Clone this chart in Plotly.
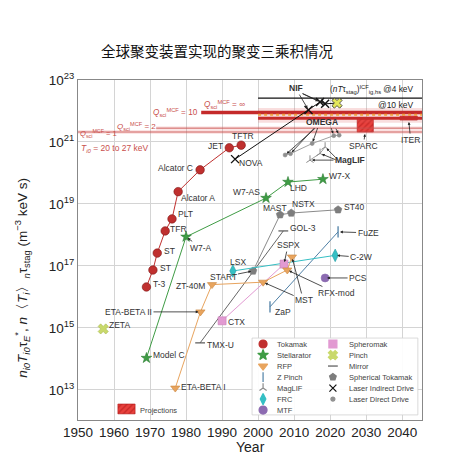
"""
Fusion triple product achieved by fusion devices, by year.
"""

import numpy as np
import plotly.graph_objects as go

FONT = "Liberation Sans, Arial, sans-serif"

# ---- device records: year, triple product (m^-3 keV s) ----
tokamak_names = ["T-3", "ST", "ST", "TFR", "PLT", "Alcator A", "Alcator C", "JET", "TFTR"]
tokamak_year = [1969.0, 1970.8, 1972.0, 1974.2, 1976.1, 1977.8, 1983.9, 1992.0, 1995.3]
tokamak_val = [2.1e16, 7.4e16, 2.6e17, 1.35e18, 3.3e18, 2.5e19, 1.26e20, 6.5e20, 7.9e20]

stell_names = ["Model C", "W7-A", "W7-AS", "LHD", "W7-X"]
stell_year = [1969.0, 1980.0, 2002.2, 2008.3, 2018.0]
stell_val = [1.07e14, 8.7e17, 1.55e19, 5.1e19, 6.3e19]

rfp_names = ["ETA-BETA I", "ETA-BETA II", "ZT-40M", "MST", "RFX-mod", "MST"]
rfp_year = [1977.0, 1984.0, 1987.2, 2001.4, 2008.1, 2009.4]
rfp_val = [1.15e13, 3.3e15, 2.5e16, 3.0e16, 7.4e16, 1.95e17]

sph_tok_names = ["START", "MAST", "NSTX", "ST40"]
sph_tok_year = [1998.6, 2006.1, 2009.2, 2022.2]
sph_tok_val = [6.9e16, 4.5e18, 5.1e18, 6.5e18]

mirror_names = ["TMX-U", "GOL-3"]
mirror_year = [1983.9, 2007.0]
mirror_val = [3.3e14, 1.35e18]

zpinch_names = ["ZaP", "FuZE"]
zpinch_year = [2003.3, 2022.2]
zpinch_val = [4.8e15, 1.26e18]

frc_names = ["LSX", "C-2W"]
frc_year = [1993.0, 2021.4]
frc_val = [6.9e16, 2.2e17]

spheromak_names = ["CTX", "SSPX"]
spheromak_year = [1990.0, 2007.2]
spheromak_val = [1.7e15, 1.15e17]

mtf_names = ["PCS"]
mtf_year = [2018.6]
mtf_val = [4.1e16]

pinch_names = ["ZETA"]
pinch_year = [1957.0]
pinch_val = [9.3e14]

lid_names = ["NOVA", "NIF", "NIF", "NIF", "NIF"]
lid_year = [1993.6, 2014.0, 2017.2, 2018.6, 2021.9]
lid_val = [2.8e20, 1.07e22, 1.95e22, 1.7e22, 1.8e22]

omega_year = [2007.5, 2009.0, 2015.0, 2021.0, 2022.5]
omega_val = [3.8e20, 4.2e20, 8.9e20, 1.6e21, 1.66e21]

maglif_year = [2014.4, 2017.2, 2018.6]
maglif_val = [2.6e20, 4.3e20, 6.9e20]

# projections (SPARC, ITER): year span and triple-product span
proj_names = ["SPARC", "ITER"]
proj_year_lo = [2027.5, 2039.4]
proj_year_hi = [2032.0, 2044.2]
proj_val_lo = [2.1e21, 5.1e21]
proj_val_hi = [5.9e21, 6.9e21]

# reference levels: start year and value
q1_start, q1_val = 1950.0, 2.1e21
q2_start, q2_val = 1971.7, 2.8e21
q10_start, q10_val = 1984.2, 9.0e21
qinf_start, qinf_val = 2000.0, 5.8e21
band_lo, band_hi = 4.2e21, 1.25e22
icf4_start, icf4_val = 2000.0, 2.6e22
icf10_start, icf10_val = 2000.0, 7.6e21

X_MIN, X_MAX = 1950, 2045.5

TOK = "#c0302f"
STE = "#3f9c45"
RFP = "#e8a45e"
ZPI = "#4f80a6"
MAG = "#8a8a8a"
FRC = "#35bfc4"
MTF = "#8c6bb1"
SPH = "#e29ad2"
PIN = "#c9d96b"
MIR = "#555555"
STK = "#7d7d7d"
LID = "#111111"
LDD = "#8f8f8f"
QRED = "#c94f4c"


def lg(v):
    return float(np.log10(v))


fig = go.Figure()

# reference bands / lines
fig.add_trace(go.Scatter(x=[icf4_start, X_MAX], y=[band_lo, band_lo], mode="lines",
                         line=dict(width=0), hoverinfo="skip", showlegend=False))
fig.add_trace(go.Scatter(x=[icf4_start, X_MAX], y=[band_hi, band_hi], mode="lines",
                         line=dict(width=0), fill="tonexty",
                         fillcolor="rgba(225,90,90,0.2)", hoverinfo="skip",
                         showlegend=False))
for start, val in [(q1_start, q1_val), (q2_start, q2_val)]:
    fig.add_trace(go.Scatter(x=[start, X_MAX], y=[val, val], mode="lines",
                             line=dict(color="rgba(225,90,90,0.15)", width=4),
                             hoverinfo="skip", showlegend=False))
    fig.add_trace(go.Scatter(x=[start, X_MAX], y=[val, val], mode="lines",
                             line=dict(color=QRED, width=0.9),
                             hoverinfo="skip", showlegend=False))
fig.add_trace(go.Scatter(x=[q10_start, X_MAX], y=[q10_val, q10_val], mode="lines",
                         line=dict(color="#c42a2a", width=3.5),
                         hoverinfo="skip", showlegend=False))
fig.add_trace(go.Scatter(x=[qinf_start, X_MAX], y=[qinf_val, qinf_val], mode="lines",
                         line=dict(color="#c42a2a", width=3),
                         hoverinfo="skip", showlegend=False))
fig.add_trace(go.Scatter(x=[icf10_start, X_MAX], y=[icf10_val, icf10_val], mode="lines",
                         line=dict(color="#f0a040", width=2, dash="dot"),
                         hoverinfo="skip", showlegend=False))
fig.add_trace(go.Scatter(x=[icf4_start, X_MAX], y=[icf4_val, icf4_val], mode="lines",
                         line=dict(color="#111111", width=1.3),
                         hoverinfo="skip", showlegend=False))

# projections
fig.add_trace(go.Bar(
    x=[(a + b) / 2 for a, b in zip(proj_year_lo, proj_year_hi)],
    width=[b - a for a, b in zip(proj_year_lo, proj_year_hi)],
    base=proj_val_lo,
    y=[h - l for l, h in zip(proj_val_lo, proj_val_hi)],
    marker=dict(color="#e8403c", line=dict(color="#b01818", width=0.6),
                pattern=dict(shape="/", fgcolor="#a81414", size=4, solidity=0.35)),
    hoverinfo="skip", showlegend=False))


def series(x, y, color, symbol, size=8, lw=1.0, edge=None, mlw=0.6, lcolor=None):
    fig.add_trace(go.Scatter(
        x=x, y=y, mode="lines+markers",
        line=dict(color=lcolor or color, width=lw),
        marker=dict(symbol=symbol, size=size, color=color,
                    line=dict(color=edge or color, width=mlw)),
        hoverinfo="skip", showlegend=False))


series(omega_year, omega_val, LDD, "circle", size=4, lcolor="#a0a0a0")
series(maglif_year, maglif_val, MAG, "y-up", size=6, mlw=1, lcolor="#a0a0a0")
series(mirror_year, mirror_val, MIR, "line-ew", size=7, mlw=1.2, lcolor="#666666")
series(sph_tok_year, sph_tok_val, STK, "pentagon", size=8, lcolor="#8a8a8a")
series(zpinch_year, zpinch_val, ZPI, "line-ns", size=8, mlw=1.3)
series(frc_year, frc_val, FRC, "diamond-tall", size=9, edge="#2a9ea3")
series(spheromak_year, spheromak_val, SPH, "square", size=8, edge="#c77fb8")
series(mtf_year, mtf_val, MTF, "circle", size=8)
series(pinch_year, pinch_val, PIN, "x", size=9, edge="#a8b850")
series(rfp_year, rfp_val, RFP, "triangle-down", size=8, edge="#c98640")
series(stell_year, stell_val, STE, "star", size=8, edge="#2f7f35")
series(tokamak_year, tokamak_val, TOK, "circle", size=8.5, edge="#7d1515")
series(lid_year, lid_val, LID, "x-thin", size=8, mlw=1.4)
# highlighted NIF shot
fig.add_trace(go.Scatter(x=lid_year[-1:], y=lid_val[-1:], mode="markers",
                         marker=dict(symbol="x", size=9, color="#e4e85a",
                                     line=dict(color="#333333", width=0.8)),
                         hoverinfo="skip", showlegend=False))

# ---- legend (drawn on a hidden overlay axis in plot fractions) ----
legend_items = [
    ("Tokamak", "circle", TOK, 8), ("Stellarator", "star", STE, 8),
    ("RFP", "triangle-down", RFP, 8), ("Z Pinch", "line-ns", ZPI, 7),
    ("MagLIF", "y-up", MAG, 6), ("FRC", "diamond-tall", FRC, 8),
    ("MTF", "circle", MTF, 8),
    ("Spheromak", "square", SPH, 8), ("Pinch", "x", PIN, 8),
    ("Mirror", "line-ew", MIR, 7), ("Spherical Tokamak", "pentagon", STK, 7),
    ("Laser Indirect Drive", "x-thin", LID, 7), ("Laser Direct Drive", "circle", LDD, 4),
]
box_x0, box_x1, box_y0, box_y1 = 0.506, 0.988, 0.015, 0.241
row_top, row_step = 0.2235, 0.0324
col_marker = [0.538, 0.741]
col_text = [0.574, 0.783]

fig.add_trace(go.Scatter(
    x=[box_x0, box_x1, box_x1, box_x0, box_x0], y=[box_y0, box_y0, box_y1, box_y1, box_y0],
    mode="lines", fill="toself", fillcolor="rgba(255,255,255,0.92)",
    line=dict(color="#d0d0d0", width=0.8), xaxis="x2", yaxis="y2",
    hoverinfo="skip", showlegend=False))

annotations = []
for i, (name, sym, col, sz) in enumerate(legend_items):
    c, r = divmod(i, 7)
    ypos = row_top - r * row_step
    fig.add_trace(go.Scatter(
        x=[col_marker[c]], y=[ypos], mode="markers", xaxis="x2", yaxis="y2",
        marker=dict(symbol=sym, size=sz, color=col, line=dict(color=col, width=1.2)),
        hoverinfo="skip", showlegend=False))
    annotations.append(dict(x=col_text[c], y=ypos, xref="x2", yref="y2", text=name,
                            showarrow=False, xanchor="left", yanchor="middle",
                            font=dict(size=7.5, color="#444444", family=FONT)))

# projections key
fig.add_trace(go.Bar(x=[0.141], width=[0.05], base=[0.018], y=[0.029],
                     xaxis="x2", yaxis="y2",
                     marker=dict(color="#e8403c", line=dict(color="#b01818", width=0.6),
                                 pattern=dict(shape="/", fgcolor="#a81414", size=4,
                                              solidity=0.35)),
                     hoverinfo="skip", showlegend=False))
annotations.append(dict(x=0.175, y=0.028, xref="x2", yref="y2", text="Projections",
                        showarrow=False, xanchor="left", yanchor="middle",
                        font=dict(size=7.5, color="#444444", family=FONT)))


def label(x, v, text, dx=0, dy=0, anchor="left", size=8.5, color="#333333", bold=False):
    if bold:
        text = "<b>" + text + "</b>"
    annotations.append(dict(x=x, y=lg(v), xref="x", yref="y", text=text,
                            showarrow=False, xanchor=anchor, yanchor="middle",
                            xshift=dx, yshift=-dy,
                            font=dict(size=size, color=color, family=FONT)))


def arrow(x, v, ax, ay, text="", bold=False):
    if bold and text:
        text = "<b>" + text + "</b>"
    annotations.append(dict(x=x, y=lg(v), xref="x", yref="y", text=text,
                            showarrow=True, ax=ax, ay=ay, arrowhead=2, arrowsize=0.7,
                            arrowwidth=0.8, arrowcolor="#222222", standoff=2,
                            font=dict(size=8.5, color="#333333", family=FONT)))


# tokamak labels
tok_off = [(5, -3, "left"), (5, -2, "left"), (5, -2, "left"), (3, -2, "left"),
           (4, -5, "left"), (1, 6, "left"), (-5, -2, "right"), (-4, -2, "right"),
           (2, -9, "center")]
for n, x, v, (dx, dy, a) in zip(tokamak_names, tokamak_year, tokamak_val, tok_off):
    label(x, v, n, dx, dy, a)

label(stell_year[0], stell_val[0], stell_names[0], 5, -3)
arrow(stell_year[1], stell_val[1], 15, 11, stell_names[1])
label(stell_year[2], stell_val[2], stell_names[2], -4, -6, "right")
label(stell_year[3], stell_val[3], stell_names[3], 0, 6)
label(stell_year[4], stell_val[4], stell_names[4], 4, -3)

label(rfp_year[0], rfp_val[0], rfp_names[0], 4, -1)
arrow(rfp_year[1], rfp_val[1], -72, 0, rfp_names[1])
label(rfp_year[2], rfp_val[2], rfp_names[2], -5, 1, "right")
arrow(rfp_year[3], rfp_val[3], 41, 18, rfp_names[3])
arrow(rfp_year[5], rfp_val[5], 10, 38)
arrow(rfp_year[4], rfp_val[4], 49, 23, rfp_names[4])

arrow(sph_tok_year[0], sph_tok_val[0], -30, 6, sph_tok_names[0])
label(sph_tok_year[1], sph_tok_val[1], sph_tok_names[1], -5, -7, "center")
label(sph_tok_year[2], sph_tok_val[2], sph_tok_names[2], 12, -9, "center")
label(sph_tok_year[3], sph_tok_val[3], sph_tok_names[3], 4, -3)

label(mirror_year[0], mirror_val[0], mirror_names[0], 5, 2)
label(mirror_year[1], mirror_val[1], mirror_names[1], 5, -3)

label(zpinch_year[0], zpinch_val[0], zpinch_names[0], 3, 5)
arrow(zpinch_year[1], zpinch_val[1], 30, 1, zpinch_names[1])

label(frc_year[0], frc_val[0], frc_names[0], 5, -9, "center")
arrow(frc_year[1], frc_val[1], 26, 2, frc_names[1])

label(spheromak_year[0], spheromak_val[0], spheromak_names[0], 4, 1)
arrow(spheromak_year[1], spheromak_val[1], 4, -19, spheromak_names[1])

arrow(mtf_year[0], mtf_val[0], 33, 0, mtf_names[0])
label(pinch_year[0], pinch_val[0], pinch_names[0], 4, -4)

label(lid_year[0], lid_val[0], lid_names[0], 2, 4)
arrow(lid_year[1], lid_val[1], -13, -22, lid_names[1], bold=True)
arrow(lid_year[2], lid_val[2], -19, -9)
arrow(lid_year[3], lid_val[3], -24, -11)

arrow(omega_year[0], omega_val[0], 37, -33, "OMEGA", bold=True)
arrow(omega_year[1], omega_val[1], 25, -27)
arrow(omega_year[2], omega_val[2], 6, -17)
arrow(omega_year[3], omega_val[3], -3, -9)
arrow(omega_year[4], omega_val[4], -4, -8)

arrow(maglif_year[0], maglif_val[0], 40, 0, "MagLIF", bold=True)
arrow(maglif_year[1], maglif_val[1], 17, 7)
arrow(maglif_year[2], maglif_val[2], 12, 12)

arrow((proj_year_lo[0] + proj_year_hi[0]) / 2, proj_val_lo[0], -2, 14, proj_names[0])
arrow((proj_year_lo[1] + proj_year_hi[1]) / 2, proj_val_lo[1], 2, 20, proj_names[1])

# reference-level labels
QS = "<i>Q</i><sub>sci</sub><sup>MCF</sup>"
label(q1_start + 0.1, q1_val, QS + " = 1", 0, 1, size=7.6, color=QRED)
label(q2_start, q2_val, QS + " = 2", 2, -2, "right", size=8.0, color=QRED)
label(q10_start, q10_val, QS + " = 10", -1, 0, "right", size=8.2, color=QRED)
label(q10_start + 0.3, q10_val, QS + " = ∞", 0, -8, size=8.2, color=QRED)
label(q1_start + 0.3, q1_val, "<i>T</i><sub><i>i0</i></sub> = 20 to 27 keV", 0, 16,
      size=8.5, color=QRED)
label(X_MAX - 2, icf4_val, "(<i>nT</i>τ<sub>stag</sub>)<sup>ICF</sup><sub>ig,hs</sub> @4 keV",
      0, -9, "right", size=8.3, color="#222222")
label(X_MAX - 2, icf10_val, "@10 keV", 0, -10, "right", size=8.5, color="#222222")

# titles
annotations.append(dict(
    x=-0.163, y=0.418, xref="paper", yref="paper", textangle=-90, showarrow=False,
    text="<i>n</i><sub><i>i0</i></sub><i>T</i><sub><i>i0</i></sub>τ<sub><i>E</i></sub><sup>*</sup>, "
         "<i>n</i>〈<i>T<sub>i</sub></i>〉<sub><i>n</i></sub>τ<sub>stag</sub> (m<sup>−3</sup> keV s)",
    xanchor="center", yanchor="middle", font=dict(size=13.5, color="#222222", family=FONT)))
annotations.append(dict(
    x=0.5, y=-0.079, xref="paper", yref="paper", text="Year", showarrow=False,
    xanchor="center", yanchor="middle", font=dict(size=14, color="#222222", family=FONT)))

ytick_vals = [1e13, 1e15, 1e17, 1e19, 1e21, 1e23]
ytick_text = ["10<sup>13</sup>", "10<sup>15</sup>", "10<sup>17</sup>",
              "10<sup>19</sup>", "10<sup>21</sup>", "10<sup>23</sup>"]

fig.update_layout(
    width=462, height=461,
    margin=dict(l=78, r=40, t=80, b=41),
    paper_bgcolor="white", plot_bgcolor="white",
    barmode="overlay",
    title=dict(text="全球聚变装置实现的聚变三乘积情况", x=217 / 462, y=1 - 52 / 461,
               xanchor="center", yanchor="middle",
               font=dict(family="Noto Sans CJK SC", size=14.5, color="#111111")),
    xaxis=dict(range=[X_MIN, X_MAX], dtick=10, tick0=1950, showgrid=True,
               gridcolor="#d4d4d4", gridwidth=1, showline=True, linecolor="#888888",
               mirror=True, zeroline=False, ticks="",
               tickfont=dict(size=13.5, color="#222222", family=FONT)),
    yaxis=dict(type="log", range=[12.03, 23], tickvals=ytick_vals, ticktext=ytick_text,
               showgrid=True, gridcolor="#d4d4d4", gridwidth=1, showline=True,
               linecolor="#888888", mirror=True, zeroline=False, ticks="",
               tickfont=dict(size=13.5, color="#222222", family=FONT)),
    xaxis2=dict(overlaying="x", range=[0, 1], visible=False),
    yaxis2=dict(overlaying="y", range=[0, 1], visible=False),
    annotations=annotations,
    showlegend=False,
)

# the page body has a default 8px margin; drop it so the figure fills the window
fig.write_html("out.html", config={"displayModeBar": False},
               post_script="document.body.style.margin = '0';")
